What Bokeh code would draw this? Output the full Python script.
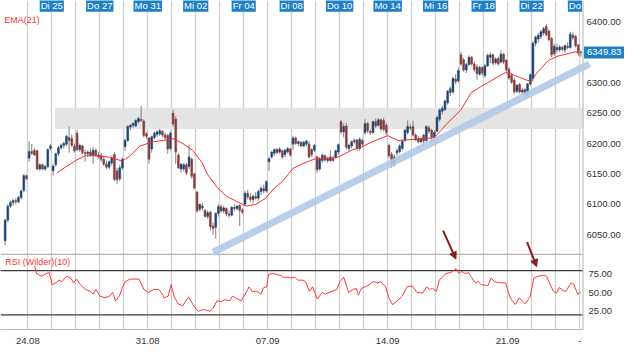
from bokeh.plotting import figure
from bokeh.models import (Range1d, LinearAxis, FixedTicker, Grid, ColumnDataSource, Span,
                          BoxAnnotation, Label, Arrow, NormalHead)
from bokeh.core.properties import value
from bokeh.embed import file_html
from bokeh.resources import INLINE

# ---------------- data (hourly bars, 9 per trading day) ----------------
opens = [
    6040, 6074, 6097, 6103, 6106, 6104, 6111, 6123, 6147,   # Fr 21.08
    6176, 6187, 6189, 6188, 6158, 6165, 6158, 6162, 6192,   # Mo 24.08
    6155, 6165, 6183, 6193, 6197, 6199, 6210, 6208, 6196,   # Di 25.08
    6217, 6190, 6196, 6185, 6183, 6186, 6181, 6189, 6181,   # Mi 26.08
    6180, 6174, 6166, 6161, 6168, 6182, 6155, 6142, 6160,   # Do 27.08
    6195, 6205, 6227, 6230, 6229, 6236, 6240, 6237, 6216,   # Fr 28.08
    6209, 6191, 6210, 6215, 6216, 6220, 6214, 6213, 6192,   # Mo 31.08
    6250, 6240, 6181, 6158, 6158, 6165, 6162, 6174, 6150,   # Di 01.09
    6120, 6092, 6097, 6090, 6080, 6087, 6064, 6062, 6085,   # Mi 02.09
    6096, 6089, 6093, 6084, 6082, 6095, 6093, 6098, 6090,   # Do 03.09
    6100, 6118, 6112, 6108, 6113, 6110, 6121, 6126, 6122,   # Fr 04.09
    6170, 6178, 6184, 6190, 6186, 6188, 6182, 6186, 6191,   # Mo 07.09
    6199, 6209, 6200, 6202, 6196, 6199, 6199, 6190, 6189,   # Di 08.09
    6178, 6158, 6172, 6180, 6172, 6172, 6175, 6177, 6186,   # Mi 09.09
    6236, 6219, 6229, 6192, 6196, 6203, 6206, 6192, 6205,   # Do 10.09
    6218, 6233, 6220, 6218, 6236, 6230, 6239, 6238, 6230,   # Fr 11.09
    6197, 6182, 6166, 6185, 6187, 6192, 6205, 6218, 6227,   # Mo 14.09
    6228, 6214, 6208, 6203, 6214, 6205, 6226, 6222, 6210,   # Di 15.09
    6220, 6240, 6253, 6256, 6267, 6284, 6285, 6306, 6303,   # Mi 16.09
    6346, 6338, 6321, 6330, 6342, 6331, 6326, 6314, 6325,   # Do 17.09
    6312, 6328, 6342, 6346, 6333, 6340, 6334, 6347, 6337,   # Fr 18.09
    6322, 6312, 6304, 6286, 6297, 6285, 6289, 6282, 6298,   # Mo 21.09
    6307, 6365, 6372, 6376, 6382, 6393, 6385, 6373, 6348,   # Di 22.09
    6358, 6354, 6358, 6354, 6360, 6358, 6378, 6376, 6362,   # Mi 23.09
    6350.5,                                                 # Do 24.09
]
highs = [
    6076, 6100, 6106, 6109, 6110, 6114, 6124, 6150, 6149,
    6204, 6199, 6192, 6190, 6167, 6167, 6165, 6192, 6199,
    6166, 6185, 6196, 6200, 6203, 6214, 6228, 6215, 6200,
    6222, 6200, 6198, 6190, 6189, 6192, 6194, 6192, 6186,
    6185, 6178, 6172, 6172, 6180, 6186, 6160, 6165, 6177,
    6208, 6230, 6232, 6235, 6240, 6244, 6262, 6240, 6219,
    6211, 6213, 6220, 6222, 6224, 6222, 6218, 6216, 6220,
    6256, 6245, 6184, 6168, 6168, 6168, 6198, 6177, 6152,
    6122, 6101, 6102, 6092, 6090, 6089, 6070, 6087, 6100,
    6100, 6098, 6095, 6090, 6097, 6100, 6099, 6100, 6094,
    6122, 6124, 6118, 6116, 6120, 6124, 6130, 6132, 6140,
    6178, 6188, 6192, 6193, 6194, 6190, 6191, 6194, 6193,
    6212, 6211, 6205, 6204, 6204, 6206, 6204, 6192, 6199,
    6180, 6178, 6183, 6182, 6178, 6189, 6180, 6190, 6200,
    6239, 6233, 6234, 6200, 6205, 6208, 6208, 6210, 6208,
    6240, 6236, 6223, 6238, 6241, 6242, 6241, 6242, 6234,
    6200, 6186, 6182, 6192, 6199, 6206, 6224, 6238, 6232,
    6238, 6217, 6212, 6210, 6216, 6230, 6230, 6224, 6222,
    6246, 6258, 6262, 6272, 6288, 6294, 6310, 6314, 6325,
    6351, 6341, 6333, 6345, 6344, 6334, 6330, 6328, 6327,
    6331, 6348, 6350, 6348, 6342, 6343, 6354, 6349, 6339,
    6326, 6316, 6308, 6298, 6300, 6292, 6291, 6300, 6316,
    6368, 6378, 6382, 6387, 6392, 6397, 6388, 6375, 6364,
    6364, 6362, 6361, 6363, 6366, 6384, 6383, 6379, 6364,
    6353,
]
lows = [
    6032, 6070, 6094, 6098, 6100, 6102, 6108, 6120, 6140,
    6170, 6181, 6180, 6156, 6155, 6156, 6155, 6160, 6189,
    6147, 6162, 6180, 6190, 6192, 6196, 6185, 6194, 6185,
    6187, 6186, 6182, 6170, 6178, 6178, 6166, 6178, 6175,
    6170, 6163, 6158, 6158, 6164, 6138, 6133, 6138, 6157,
    6188, 6203, 6222, 6226, 6227, 6233, 6236, 6210, 6208,
    6167, 6185, 6207, 6211, 6212, 6211, 6206, 6183, 6188,
    6228, 6166, 6158, 6152, 6154, 6148, 6158, 6142, 6124,
    6086, 6088, 6090, 6078, 6076, 6057, 6050, 6043, 6080,
    6086, 6085, 6080, 6078, 6080, 6089, 6090, 6064, 6084,
    6097, 6108, 6104, 6102, 6108, 6106, 6115, 6118, 6120,
    6155, 6175, 6180, 6183, 6183, 6175, 6178, 6184, 6178,
    6190, 6198, 6196, 6194, 6194, 6196, 6175, 6178, 6186,
    6152, 6155, 6168, 6170, 6168, 6170, 6170, 6175, 6182,
    6215, 6210, 6190, 6188, 6192, 6199, 6188, 6188, 6196,
    6214, 6217, 6214, 6216, 6226, 6228, 6220, 6220, 6214,
    6176, 6160, 6162, 6180, 6184, 6189, 6203, 6215, 6222,
    6212, 6204, 6200, 6200, 6196, 6202, 6216, 6198, 6206,
    6218, 6236, 6248, 6254, 6264, 6278, 6282, 6298, 6300,
    6328, 6318, 6316, 6328, 6328, 6318, 6305, 6312, 6312,
    6308, 6326, 6332, 6329, 6330, 6328, 6332, 6331, 6318,
    6305, 6298, 6282, 6283, 6282, 6280, 6274, 6278, 6295,
    6302, 6360, 6366, 6372, 6378, 6376, 6368, 6342, 6344,
    6350, 6351, 6352, 6350, 6355, 6356, 6370, 6358, 6344,
    6343,
]
closes = [
    6074, 6097, 6103, 6106, 6104, 6111, 6122, 6147, 6142,
    6187, 6184, 6181, 6158, 6165, 6158, 6162, 6190, 6196,
    6163, 6183, 6193, 6197, 6200, 6212, 6205, 6197, 6188,
    6190, 6197, 6185, 6183, 6186, 6181, 6189, 6181, 6178,
    6174, 6166, 6161, 6170, 6176, 6141, 6140, 6160, 6174,
    6205, 6228, 6230, 6233, 6238, 6241, 6238, 6213, 6212,
    6174, 6211, 6217, 6219, 6221, 6214, 6210, 6191, 6217,
    6232, 6186, 6160, 6166, 6165, 6152, 6178, 6146, 6127,
    6089, 6100, 6094, 6080, 6086, 6063, 6060, 6085, 6096,
    6089, 6094, 6084, 6082, 6095, 6093, 6097, 6090, 6087,
    6118, 6112, 6108, 6113, 6110, 6121, 6126, 6122, 6137,
    6175, 6186, 6190, 6185, 6191, 6178, 6189, 6192, 6181,
    6209, 6200, 6203, 6196, 6202, 6204, 6178, 6182, 6197,
    6157, 6175, 6181, 6173, 6176, 6178, 6172, 6188, 6198,
    6219, 6228, 6194, 6197, 6203, 6205, 6192, 6207, 6199,
    6233, 6221, 6218, 6236, 6229, 6239, 6224, 6223, 6218,
    6180, 6166, 6178, 6188, 6196, 6204, 6222, 6228, 6225,
    6214, 6206, 6203, 6208, 6204, 6228, 6220, 6210, 6218,
    6243, 6255, 6258, 6270, 6286, 6290, 6307, 6302, 6320,
    6331, 6321, 6330, 6342, 6331, 6322, 6315, 6325, 6316,
    6328, 6345, 6346, 6332, 6339, 6331, 6347, 6334, 6321,
    6308, 6301, 6285, 6296, 6285, 6288, 6282, 6298, 6313,
    6365, 6375, 6378, 6384, 6389, 6379, 6371, 6346, 6360,
    6354, 6359, 6355, 6361, 6358, 6380, 6374, 6361, 6350,
    6349.83,
]

# EMA(21) (x = bar position)
ema_x = [19.97, 26.92, 30.58, 35.33, 40.09, 44.48, 47.4, 51.06, 56.18, 59.84, 63.5,
         67.16, 70.81, 74.47, 76.3, 79.96, 83.61, 87.27, 90.93, 94.58, 98.24, 101.17,
         104.83, 108.49, 112.14, 116.9, 122.02, 125.68, 130.43, 134.1, 137.75, 143.97,
         147.99, 154.22, 160.44, 162.27, 166.29, 171.41, 175.44, 178.73, 183.47, 188.25,
         190.07, 194.46, 197.75, 199.93, 204.32, 207.98, 211.64, 214.56, 216.39]
ema_v = [6152, 6172, 6180, 6180, 6177, 6171, 6180, 6196, 6203, 6205, 6208,
         6200, 6189, 6168, 6150, 6128, 6113, 6105, 6097, 6100, 6110, 6125,
         6139, 6159, 6167, 6175, 6175, 6178, 6189, 6194, 6202, 6213,
         6205, 6207, 6209, 6213, 6233, 6255, 6284, 6293, 6305, 6317,
         6315, 6307, 6302, 6316, 6337, 6344, 6348, 6351, 6346]

# RSI (Wilder)(10)
rsi_x = [11.56, 12.29, 14.12, 15.95, 17.04, 18.14, 19.6, 20.7, 21.8, 23.63, 25.09, 26.19,
         27.29, 28.75, 30.58, 32.41, 33.5, 34.6, 36.06, 37.89, 39.72, 40.82, 41.92, 43.38,
         44.48, 45.57, 47.4, 50.69, 52.52, 54.35, 56.18, 58.01, 59.11, 60.21, 61.67, 62.77,
         63.86, 65.33, 67.16, 68.25, 69.35, 70.81, 71.91, 73.01, 74.84, 77.4, 78.5, 79.96,
         81.79, 82.88, 84.71, 85.81, 87.64, 89.1, 90.93, 92.03, 93.12, 94.95, 96.42, 97.51,
         98.61, 99.34, 101.17, 103.73, 104.83, 106.66, 107.75, 109.22, 110.31, 112.14,
         113.24, 114.7, 115.8, 117.63, 119.46, 120.56, 123.12, 124.95, 126.05, 127.51,
         129.34, 131.17, 132.27, 133.0, 134.1, 136.66, 138.49, 140.32, 141.41, 143.24,
         144.34, 145.8, 147.63, 149.46, 151.29, 153.12, 154.95, 157.15, 158.61, 159.71,
         160.8, 162.27, 163.37, 164.46, 165.92, 167.75, 169.58, 170.68, 171.78, 173.24,
         174.34, 175.44, 176.9, 178.0, 179.1, 181.66, 182.76, 184.22, 186.05, 188.25,
         189.71, 190.8, 191.9, 193.36, 194.46, 195.56, 197.39, 198.85, 200.68, 202.51,
         203.61, 204.7, 206.17, 207.26, 208.36, 209.83, 210.92, 212.75, 213.85, 215.31,
         216.41]
rsi_v = [86.5, 76, 72.5, 76, 77.5, 61, 63.5, 67, 65, 72.5, 70, 63.5,
         68.5, 61, 54.5, 52, 48, 54.5, 45.5, 43, 45.5, 50.5, 39, 45.5,
         57, 65, 68.5, 68.5, 54.5, 50.5, 54.5, 54.5, 50.5, 43, 45.5, 61,
         45.5, 35, 32.5, 39, 44, 35, 29, 25, 27.5, 25, 29, 39,
         38, 40.5, 39, 45.5, 41.5, 39, 50.5, 58, 52, 52, 48, 57,
         58, 75, 76, 73.5, 71, 71, 70, 71, 67, 67,
         65, 52, 58, 41.5, 50.5, 48, 52, 54.5, 65, 71,
         50.5, 54.5, 55.8, 46.8, 55.8, 59.6, 65, 63.5, 65, 58,
         44, 34, 39, 45.5, 58, 59.6, 50.5, 49.4, 58, 54.5,
         55.8, 52, 67, 71, 76, 77.5, 82.7, 76, 78.8, 76,
         77.5, 71, 63.5, 65, 61, 59.6, 70, 65, 63.5, 63.5,
         45.5, 39, 34, 43, 39, 35, 44, 70, 72.5, 73.5,
         72.5, 63.5, 52, 49.4, 57, 53, 52, 63.5, 61, 48,
         50.5]

price_ticks = [6050, 6100, 6150, 6200, 6250, 6300, 6350, 6400]
rsi_ticks = [25, 50, 75]
rsi_levels = [80, 20]
rsi_panel_top = 101.9

bars_per_day = 9
monday_days = [1, 6, 11, 16, 21, 24]
monday_labels = ["24.08", "31.08", "07.09", "14.09", "21.09", "-"]
top_days = [2, 4, 6, 8, 10, 12, 14, 16, 18, 20, 22]
top_labels = ["Di 25", "Do 27", "Mo 31", "Mi 02", "Fr 04", "Di 08", "Do 10",
              "Mo 14", "Mi 16", "Fr 18", "Di 22"]
last_day_label = "Do"

# drawings on the chart
zone_start_x, zone_low, zone_high = 19.24, 6224, 6259
trend_x = [78.5, 219.7]
trend_y = [6020.7, 6330.9]
arrows = [((164.8, 6056.5), (169.6, 6009.8)), ((196.3, 6037.8), (199.9, 5997.3))]

# ---------------- layout constants ----------------
FONT = "Liberation Sans"
BLUE_TAG = "#1f80c6"
X0, X_EDGE, X1 = -1.24, 217.3, 232.85     # left edge, price-axis line, right edge
PRICE_LABEL_X, RSI_LABEL_X = 218.6, 219.3

p = figure(width=624, height=346, x_range=Range1d(X0, X1), y_range=Range1d(5893.9, 6435.4),
           output_backend="svg", toolbar_location=None,
           x_axis_location=None, y_axis_location=None,
           min_border_left=0, min_border_top=0, min_border_right=0, min_border_bottom=0,
           outline_line_color=None, background_fill_color="white", border_fill_color="white")
p.extra_y_ranges = {"rsi": Range1d(0.26, 445.5)}
p.grid.visible = False

# vertical day grid lines
day_lines = [d * bars_per_day for d in range(1, 25)]
p.add_layout(Grid(dimension=0, ticker=FixedTicker(ticks=day_lines),
                  grid_line_color="#cfcfcf", grid_line_width=1.3))

# date axis (below)
bax = LinearAxis(ticker=FixedTicker(ticks=[d * bars_per_day for d in monday_days]),
                 major_label_overrides={d * bars_per_day: t for d, t in zip(monday_days, monday_labels)},
                 major_tick_line_color=None, minor_tick_line_color=None,
                 axis_line_color="#bdbdbd", bounds=(X0, X_EDGE), major_label_standoff=2,
                 major_label_text_font=FONT, major_label_text_font_size="9.5px",
                 major_label_text_color="#333333")
p.add_layout(bax, "below")

# price-axis line
p.add_layout(Span(location=X_EDGE, dimension="height", line_color="#c4c4c4", line_width=1.3))

# resistance zone
p.add_layout(BoxAnnotation(left=zone_start_x, right=X_EDGE, bottom=zone_low, top=zone_high,
                           fill_color="#e4e4e4", fill_alpha=1, line_color=None, level="underlay"))

# RSI guide lines
p.segment(x0=[X0], y0=[rsi_panel_top], x1=[X_EDGE], y1=[rsi_panel_top], y_range_name="rsi",
          line_color="#b4b4b4", line_width=1.3)
p.segment(x0=[X0] * len(rsi_levels), y0=rsi_levels, x1=[X_EDGE] * len(rsi_levels), y1=rsi_levels,
          y_range_name="rsi", line_color="#3a3a3a", line_width=1.3)

# candles
xs = [i + 0.5 for i in range(len(closes))]
src = ColumnDataSource(dict(
    x=xs, high=highs, low=lows,
    top=[max(o, c) for o, c in zip(opens, closes)],
    bottom=[min(o, c) for o, c in zip(opens, closes)],
    color=["#1b4674" if c >= o else "#8a3b3b" for o, c in zip(opens, closes)],
))
p.segment(x0="x", y0="high", x1="x", y1="low", source=src, line_color="#808080", line_width=1)
p.vbar(x="x", width=0.7, top="top", bottom="bottom", source=src,
       fill_color="color", line_color="color", line_width=0.5)

# EMA
p.line(ema_x, ema_v, line_color="#ff2b2b", line_width=1)

# RSI
p.line(rsi_x, rsi_v, y_range_name="rsi", line_color="#ff3838", line_width=1)

# trend line
p.line(trend_x, trend_y, line_color="#b0c9e8", line_width=7, line_alpha=0.9)

# arrows
for (xs0, ys0), (xe, ye) in arrows:
    p.add_layout(Arrow(end=NormalHead(size=7, fill_color="#8b1c1c", line_color="#8b1c1c"),
                       x_start=xs0, y_start=ys0, x_end=xe, y_end=ye,
                       line_color="#8b1c1c", line_width=2))

# price scale labels (right side)
p.text(x=[PRICE_LABEL_X] * len(price_ticks), y=price_ticks, text=[f"{v:.2f}" for v in price_ticks],
       text_font=value(FONT), text_font_size=value("9.5px"), text_color="#333333",
       text_align="left", text_baseline="middle")
p.text(x=[RSI_LABEL_X] * len(rsi_ticks), y=rsi_ticks, text=[f"{v:.2f}" for v in rsi_ticks],
       y_range_name="rsi", text_font=value(FONT), text_font_size=value("9.5px"),
       text_color="#333333", text_align="left", text_baseline="middle")

# indicator titles
p.add_layout(Label(x=0.2, y=6404, text="EMA(21)", text_font=FONT, text_font_size="9px",
                   text_color="#ff3333", text_baseline="middle"))
p.add_layout(Label(x=0.55, y=91.7, y_range_name="rsi", text="RSI (Wilder)(10)", text_font=FONT,
                   text_font_size="9px", text_color="#ff3333", text_baseline="middle"))

# top day labels
for d, t in zip(top_days, top_labels):
    p.add_layout(Label(x=d * bars_per_day, y=6427.6, text=t, text_align="center",
                       text_baseline="middle", text_font=FONT, text_font_size="9.5px",
                       text_color="white", background_fill_color=BLUE_TAG, padding=1))
p.add_layout(Label(x=211.6, y=6427.6, text=last_day_label, text_align="left",
                   text_baseline="middle", text_font=FONT, text_font_size="9.5px",
                   text_color="white", background_fill_color=BLUE_TAG, padding=1))

# last price tag
p.add_layout(Label(x=X_EDGE, x_offset=1, y=closes[-1], text=f"{closes[-1]:.2f}",
                   text_baseline="middle", text_font=FONT, text_font_size="9.5px",
                   text_color="white", background_fill_color=BLUE_TAG, padding=3))

open("out.html", "w").write(file_html(p, INLINE))
